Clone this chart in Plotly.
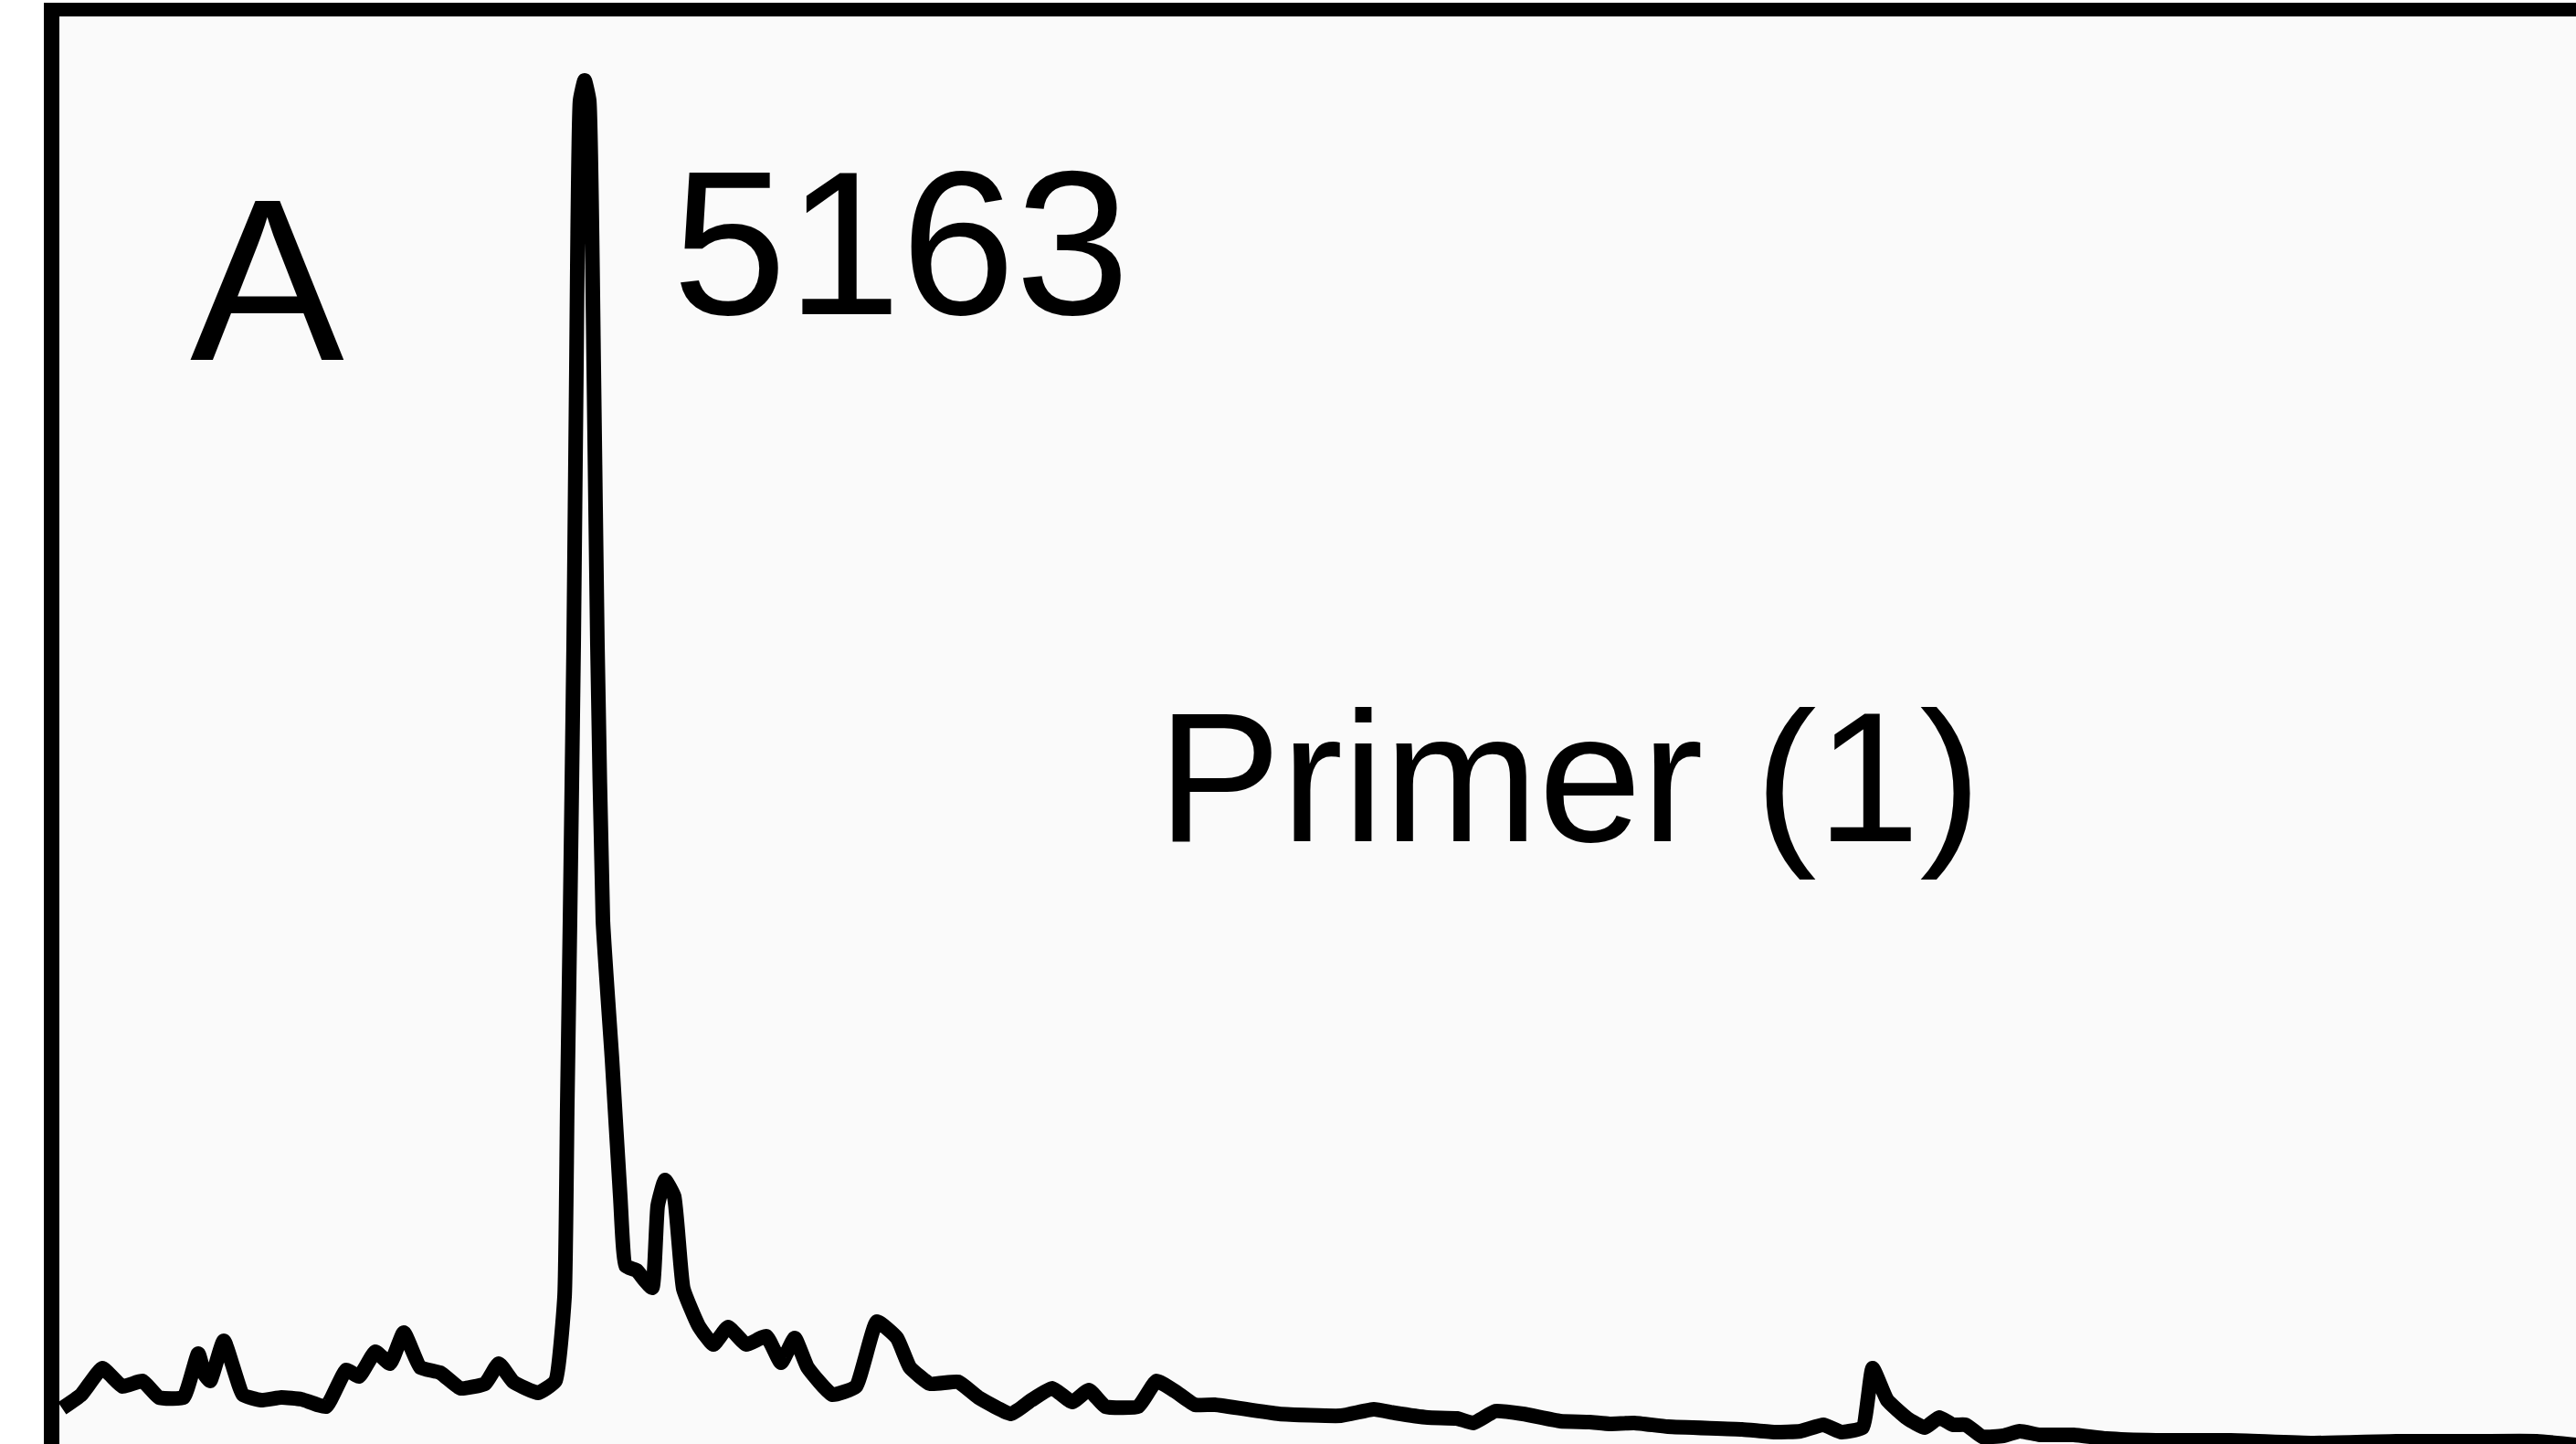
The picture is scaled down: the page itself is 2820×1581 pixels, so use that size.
import plotly.graph_objects as go

# Electropherogram trace: scan position vs. fluorescence signal
scan = [3, 24, 47, 69, 91, 109, 136, 152, 159, 165, 180, 201, 221, 243, 265, 292, 314, 328, 346, 362, 377,
        395, 417, 439, 466, 481, 497, 524, 543,
        553, 556, 559, 563, 566, 570, 575, 580, 585, 589, 595, 605, 614, 620, 632, 640, 649, 655, 663, 673,
        683, 700, 716, 732, 752, 774, 790, 805, 819, 846, 872, 895, 917, 931, 953, 984, 1006, 1042, 1064,
        1087, 1109, 1127, 1145, 1181, 1201, 1221, 1243, 1265, 1335, 1403, 1439, 1462, 1498, 1530, 1548,
        1572, 1602, 1643, 1675, 1697, 1724, 1761, 1842, 1878, 1906, 1931, 1951, 1974, 1985, 2001, 2023,
        2042, 2058, 2073, 2087, 2105, 2128, 2146, 2168, 2205, 2241, 2295, 2377, 2467, 2558, 2648, 2712, 2755]
signal = [39, 54, 83, 63, 69, 51, 51, 99, 76, 69, 113, 54, 48, 51, 49, 41, 81, 74, 101, 88, 122,
          84, 78, 61, 66, 88, 68, 56, 69,
          161, 371, 573, 875, 1178, 1471, 1493, 1471, 1178, 875, 573, 421, 271, 195, 190, 180, 171, 261, 289, 271,
          170, 129, 109, 128, 109, 118, 89, 116, 84, 54, 63, 134, 116, 84, 66, 68, 51, 33, 48,
          61, 46, 59, 41, 41, 69, 58, 43, 43, 33, 31, 38, 34, 29, 28, 23,
          36, 33, 25, 24, 22, 23, 19, 16, 13, 14, 21, 13, 18, 83, 48, 28,
          18, 29, 21, 21, 8, 9, 14, 10, 10, 6, 4, 4, 1, 3, 3, 3, -1]
assert len(scan) == len(signal)

label_panel = "A"
label_peak = "5163"
label_primer = "Primer (1)"

W, H = 2820, 1581
L, T = 65, 18


def px(x):
    return (x - L) / (W - L)


def py(y):
    return (H - y) / (H - T)


fig = go.Figure()
fig.add_trace(go.Scatter(
    x=scan, y=signal, mode="lines",
    line=dict(color="black", width=16, shape="spline", smoothing=0.4),
    hoverinfo="skip", showlegend=False,
))

font = "Liberation Sans, Arial, sans-serif"
fig.add_annotation(text=label_panel, xref="paper", yref="paper", x=px(206), y=py(163),
                   xanchor="left", yanchor="top", showarrow=False,
                   font=dict(family=font, size=253, color="black"))
fig.add_annotation(text=label_peak, xref="paper", yref="paper", x=px(734), y=py(138),
                   xanchor="left", yanchor="top", showarrow=False,
                   font=dict(family=font, size=225, color="black"))
fig.add_annotation(text=label_primer, xref="paper", yref="paper", x=px(1265), y=py(735),
                   xanchor="left", yanchor="top", showarrow=False,
                   font=dict(family=font, size=203, color="black"))

fig.update_layout(
    width=W, height=H,
    margin=dict(l=L, r=0, t=T, b=0, pad=0),
    paper_bgcolor="white",
    plot_bgcolor="#fafafa",
    showlegend=False,
    xaxis=dict(range=[0, W - L], side="top", showline=True, linewidth=15, linecolor="black",
               showgrid=False, zeroline=False, showticklabels=False, ticks=""),
    yaxis=dict(range=[0, H - T], showline=True, linewidth=17, linecolor="black",
               showgrid=False, zeroline=False, showticklabels=False, ticks=""),
)

fig.write_html("out.html", config={"displayModeBar": False},
               post_script="document.body.style.margin='0';document.body.style.overflow='hidden';")
